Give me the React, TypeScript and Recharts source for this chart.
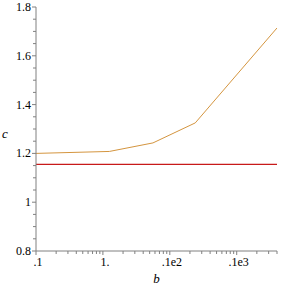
import React from 'react';
import { LineChart, Line, XAxis, YAxis, ReferenceLine } from 'recharts';

// b values (log axis) and c values
const bValues = [0.1, 1.25, 5.6, 24, 400];
const cValues = [1.2, 1.208, 1.243, 1.325, 1.714];
const limitC = 1.1547;

const yMajor = [0.8, 1, 1.2, 1.4, 1.6, 1.8];
const yLabels = ['0.8', '1', '1.2', '1.4', '1.6', '1.8'];
const xMajor = [0.1, 1, 10, 100];
const xLabels = ['.1', '1.', '.1e2', '.1e3'];

const data = bValues.map((b, i) => ({ b, c: cValues[i] }));

// minor ticks every 0.05 on y, 2..9 per decade on x
const yTicks: number[] = [];
for (let i = 0; i <= 20; i++) yTicks.push(Math.round((0.8 + i * 0.05) * 100) / 100);
const xTicks: number[] = [];
xMajor.forEach((m) => {
    for (let k = 1; k <= 9; k++) {
        const v = Math.round(m * k * 1000) / 1000;
        if (v <= 400) xTicks.push(v);
    }
});

const font = "'Times New Roman', 'Liberation Serif', Times, serif";
const axisColor = '#808080';

const YTick = (props: any) => {
    const { x, y, payload } = props;
    const idx = yMajor.findIndex((m) => Math.abs(m - payload.value) < 1e-6);
    const len = idx >= 0 ? 4 : 3;
    return (
        <g>
            <line x1={x - len} x2={x} y1={y} y2={y} stroke={axisColor} />
            {idx >= 0 && (
                <text x={x - 5} y={y} dy={4} textAnchor="end" fontFamily={font} fontSize={12} fill="#000">
                    {yLabels[idx]}
                </text>
            )}
        </g>
    );
};

const XTick = (props: any) => {
    const { x, y, payload } = props;
    const idx = xMajor.findIndex((m) => Math.abs(m - payload.value) < 1e-6);
    const len = idx >= 0 ? 4 : 3;
    return (
        <g>
            <line x1={x} x2={x} y1={y} y2={y + len} stroke={axisColor} />
            {idx >= 0 && (
                <text x={x + 2} y={y + 15} textAnchor="middle" fontFamily={font} fontSize={12} fill="#000">
                    {xLabels[idx]}
                </text>
            )}
        </g>
    );
};

export default function App() {
    return (
        <div style={{ position: 'absolute', left: 0, top: 0, width: 285, height: 285, background: '#fff', fontFamily: font }}>
            <LineChart width={285} height={285} data={data} margin={{ top: 7, right: 8, bottom: 0, left: 0 }}>
                <XAxis
                    dataKey="b"
                    type="number"
                    scale="log"
                    domain={[0.1, 400]}
                    ticks={xTicks}
                    interval={0}
                    allowDataOverflow
                    height={34}
                    tickSize={0}
                    tickMargin={0}
                    tick={<XTick />}
                    stroke={axisColor}
                    label={{ value: 'b', position: 'insideBottom', offset: 2, fontStyle: 'italic', fontFamily: font, fontSize: 13, fill: '#000' }}
                />
                <YAxis
                    type="number"
                    domain={[0.8, 1.8]}
                    ticks={yTicks}
                    interval={0}
                    width={36}
                    tickSize={0}
                    tickMargin={0}
                    tick={<YTick />}
                    stroke={axisColor}
                    label={{ value: 'c', position: 'insideLeft', offset: 2, dy: 4, fontStyle: 'italic', fontFamily: font, fontSize: 13, fill: '#000' }}
                />
                <ReferenceLine y={limitC} stroke="#C81A1A" strokeWidth={1.3} />
                <Line
                    type="linear"
                    dataKey="c"
                    stroke="#D4953F"
                    strokeWidth={1}
                    dot={false}
                    isAnimationActive={false}
                />
            </LineChart>
        </div>
    );
}
